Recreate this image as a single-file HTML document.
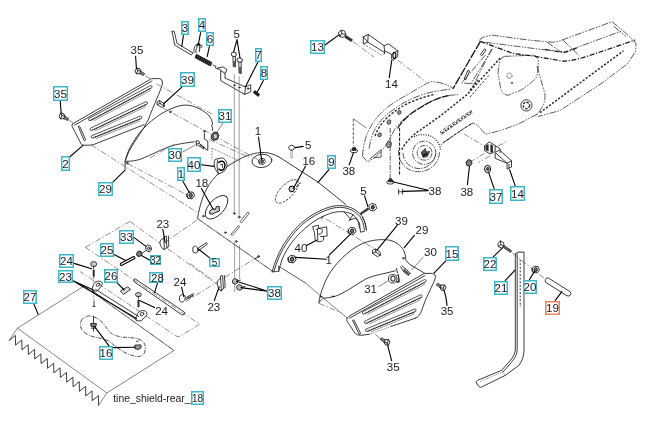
<!DOCTYPE html>
<html><head><meta charset="utf-8"><title>tine shield rear</title>
<style>
html,body{margin:0;padding:0;background:#fff;}
body{width:647px;height:438px;overflow:hidden;position:relative;font-family:"Liberation Sans",sans-serif;}
svg{position:absolute;left:0;top:0;display:block;will-change:transform;}
svg text{font-family:"Liberation Sans",sans-serif;fill:#1c1c1c;}
.k{fill:none;stroke:#1a1a1a;stroke-width:.85;stroke-linecap:round;stroke-linejoin:round;}
.kf{fill:#fff;stroke:#1a1a1a;stroke-width:.85;stroke-linejoin:round;}
.kb{fill:#222;stroke:#111;stroke-width:.6;}
.l{fill:none;stroke:#000;stroke-width:1.1;stroke-linecap:round;}
.g{fill:none;stroke:#6a6a6a;stroke-width:.7;stroke-linecap:round;stroke-linejoin:round;}
.gd{fill:none;stroke:#555;stroke-width:.9;stroke-dasharray:2.2 1.6;}
.c{fill:none;stroke:#444;stroke-width:.6;stroke-dasharray:6 2 1.5 2;}
.t{fill:none;stroke:#333;stroke-width:.6;}
.bx{fill:#fdfeff;stroke:#3fb6c6;stroke-width:1.5;}
.bo{fill:#fffdfc;stroke:#e8845c;stroke-width:1.5;}
</style></head><body>
<svg width="647" height="438" viewBox="0 0 647 438">
<rect x="0" y="0" width="647" height="438" fill="#fff"/>

<!-- 10_upper_left.svg -->
<g id="upper-left">
 <!-- side plate 2 -->
 <path class="k" d="M72.6,123.8 L150.6,79.2 L151.6,78.6 L159.4,78.6 Q162.6,79 162.6,83 C160.5,92 154,104 148.2,120 C143,130 136,139 129,151 L125.6,160"/>
 <path class="k" d="M72.6,123.8 Q71.4,124.8 72.2,126.6 L81,143.6 Q82,145.4 84,145.3 L91,145.1 Q93,145 95,144 L144,124.7"/>
 <path class="k" d="M74.6,125.2 L152,81"/>
 <!-- slots -->
 <g><path d="M88.8,118.5 L150.6,85.5 Q153.0,85.6 151.8,87.7 L90.0,120.7 Q87.6,120.6 88.8,118.5 Z" fill="#fafafa" stroke="#222" stroke-width=".75"/><path d="M90.9,120.3 L150.9,88.2" fill="none" stroke="#111" stroke-width="1.1" stroke-dasharray="1 .9"/><path d="M93.5,120.9 L150.9,90.3" fill="none" stroke="#444" stroke-width=".55"/>
  <path d="M90.4,128.2 L146.0,101.6 Q148.5,101.9 147.2,104.0 L91.6,130.6 Q89.1,130.3 90.4,128.2 Z" fill="#fafafa" stroke="#222" stroke-width=".75"/><path d="M92.5,130.1 L146.3,104.4" fill="none" stroke="#111" stroke-width="1.1" stroke-dasharray="1 .9"/><path d="M95.0,130.9 L146.1,106.5" fill="none" stroke="#444" stroke-width=".55"/>
  <path d="M91.5,135.7 L140.5,116.0 Q142.9,116.4 141.5,118.4 L92.5,138.1 Q90.1,137.7 91.5,135.7 Z" fill="#fafafa" stroke="#222" stroke-width=".75"/><path d="M93.4,137.7 L140.6,118.8" fill="none" stroke="#111" stroke-width="1.1" stroke-dasharray="1 .9"/><path d="M95.9,138.7 L140.3,120.8" fill="none" stroke="#444" stroke-width=".55"/></g>
 <path class="kf" d="M78.2,126.4 Q79.4,125.6 80,127 L85.6,139.6 Q85.2,141 84,140.4 Z"/>
 <!-- bolts 35 -->
 <g transform="translate(62,116.2) rotate(28)"><path class="kf" d="M-2.6,-2.2 L0.4,-3 L2.6,-1.4 L2.6,1.6 L-0.2,3 L-2.6,1.4 Z"/>
  <path class="k" d="M-2.6,-2.2 L-0.4,-0.6 L2.6,-1.4 M-0.4,-0.6 L-0.2,3"/>
  <path d="M2.6,-1.2 L7,-1 L7,1.2 L2.6,1.4 Z" fill="#888" stroke="#111" stroke-width=".6"/></g>
 <g transform="translate(138,71.2) rotate(28)"><path class="kf" d="M-2.6,-2.2 L0.4,-3 L2.6,-1.4 L2.6,1.6 L-0.2,3 L-2.6,1.4 Z"/>
  <path class="k" d="M-2.6,-2.2 L-0.4,-0.6 L2.6,-1.4 M-0.4,-0.6 L-0.2,3"/>
  <path d="M2.6,-1.2 L7,-1 L7,1.2 L2.6,1.4 Z" fill="#888" stroke="#111" stroke-width=".6"/></g>
 <path class="t" d="M68.5,119.8 L72.6,122.4 M145.4,75.8 L150.4,78.8"/>
 <path class="l" d="M60.3,101 L60.6,106 L61.2,113"/>
 <path class="l" d="M135.6,56.4 L136,62 L136.4,68.4"/>
 <!-- shield 29 -->
 <path class="k" d="M125,170.2 L125.2,166 L125.1,161.3 C127,152 133,141 140.1,132.2 C150,121 160,113.5 170.3,109.1 C177,106 183,104.6 188,105.2 C196,106 204,111 208.5,115.1 C211,118 212.4,121 212.5,124 L211.5,126.4 L212.6,127 L212.6,130.4"/>
 <path class="k" d="M125.1,161.3 C131,161.5 136,160.6 140.1,159.3 C146,157 151,154.6 156.2,152.3 C161,150 166,147.8 170.3,146.3 C176,144.6 181,143.6 184.3,143.2 L194.4,141.8"/>
 <path class="k" d="M204.4,133.2 L204.4,139 L207.8,141 L207.8,150.3 L204.6,148.4"/>
 <circle class="k" cx="170.3" cy="111.9" r=".8"/><circle class="k" cx="204.4" cy="131.2" r=".8"/><circle class="k" cx="127.2" cy="163.2" r=".9"/>
 <!-- bolt 39 -->
 <path class="kf" d="M157,102 L159.6,100.6 L164.2,103.6 L164.4,106.2 L161.6,107.4 L157.2,104.6 Z"/>
 <path class="k" d="M159.6,100.6 L160,103.4 L164.4,106.2 M160,103.4 L157.2,104.6"/>
 <path class="l" d="M181.8,87.2 L163.4,104"/>
 <!-- leaders -->
 <path class="l" d="M69.6,157 L83,145.4"/>
 <path class="l" d="M112.6,182.4 L124.6,170.6"/>
 <!-- center lines -->
 <path class="c" d="M156.4,84 L212,114"/>
 <path class="c" d="M91.4,145.1 L198.2,213"/>
 <path class="c" d="M127.5,163.5 L188,195.4"/>
 <path class="c" d="M163,108 L258,159.6"/>
</g>

<!-- 20_top_mid.svg -->
<g id="top-mid">
 <!-- rod 3 -->
 <path class="k" d="M172,31.4 Q173.2,30.2 174.3,31.4 L177,43.4 L192.4,52.6 M172,31.4 L174.8,45.2 L191.2,55 Q192.6,54.6 192.4,52.6"/>
 <path class="l" d="M183.4,35.6 L181.8,46.4"/>
 <!-- clip 4 -->
 <path class="k" d="M194,52.4 C193.6,48 195,44.6 197.4,44.2 M197.4,44.2 C198.6,44 199.4,45 199.2,46 M199.4,51.6 L199.8,46 C200.6,44.4 202.4,44.8 202,46.4 C201.8,47.6 200.6,48 199.8,47.8 M196,52.8 C195.8,49.4 196.6,46.6 198,45.6"/>
 <path class="l" d="M200.6,32.6 L198.6,43 M198.6,43 L196.8,45.8 M198.6,43 L200,45.4"/>
 <!-- spring 6 -->
 <path d="M196.4,54.4 L212,62.6 L210.6,66 L195,57.6 Z" fill="#444" stroke="#111" stroke-width=".7"/>
 <path d="M197.2,54.2 L196,58.4 M199,55.2 L197.8,59.4 M200.8,56.2 L199.6,60.4 M202.6,57.2 L201.4,61.4 M204.4,58.2 L203.2,62.4 M206.2,59.2 L205,63.4 M208,60.2 L206.8,64.4 M209.8,61.2 L208.6,65.4" stroke="#000" stroke-width=".8" fill="none"/>
 <path class="l" d="M209.4,46.4 L207.2,56.6"/>
 <path class="k" d="M213.4,65.2 L216,66.4 L215.4,67.8 L218,69.2"/>
 <!-- bracket 7 -->
 <path class="k" d="M218,68 L223,66.8 L227,69.6 L225,73.4 L225,78.1 L245.5,87 L250.7,84.6 L250.7,91.8 L244.7,94.4 L220.7,80.7 L220.7,70.4 L218,68 M220.7,70.4 L225,73.4 M245.5,87 L244.7,94.4"/>
 <circle class="k" cx="248.1" cy="88.6" r=".8"/><circle class="k" cx="234.4" cy="85.3" r=".7"/><circle class="k" cx="239.3" cy="87.5" r=".7"/>
 <path class="l" d="M257.8,62.2 L245.6,86.6"/>
 <!-- spring 8 -->
 <path d="M253.4,92.6 L254.8,90.6 L259.6,94.2 L258.2,96.4 Z" fill="#222" stroke="#000" stroke-width=".8"/>
 <path class="l" d="M263.4,80.6 L257.6,91.6"/>
 <!-- bolts 5 -->
 <path class="kf" d="M231.6,52.8 L233.6,52 L236.2,53 L236.2,55.6 L234.2,56.8 L231.6,55.6 Z"/>
 <path class="k" d="M233,56.4 L233.2,66.4 L235.4,67 L235.4,56.4"/>
 <path d="M233.2,61 L235.4,61 L235.4,67 L233.2,66.4 Z" fill="#555" stroke="none"/>
 <path class="kf" d="M237.2,58.6 L239.4,57.8 L242.2,59 L242.2,61.4 L240,62.4 L237.2,61.4 Z"/>
 <path class="k" d="M238.8,62 L239,73 L241.2,73.6 L241.2,62"/>
 <path d="M239,67 L241.2,67 L241.2,73.6 L239,73 Z" fill="#555" stroke="none"/>
 <path class="l" d="M237,39.6 L233.6,52 M237,39.6 L240,57.8"/>
 <!-- long vertical guide lines -->
 <path fill="none" stroke="#777" stroke-width=".7" d="M234.3,74 L234.3,84.6 M239.2,76 L239.2,86.8 M234.3,86 L234.3,212.6 M239.2,88.4 L239.2,216.4 M234.6,241.6 L234.6,292 M239.6,245 L239.6,279"/>
 <circle class="k" cx="234.3" cy="213.4" r=".8"/><circle class="k" cx="239.2" cy="217.2" r=".8"/>
</g>

<!-- 30_shield9.svg -->
<g id="shield9">
 <!-- left (front) arc -->
 <path class="k" d="M197.6,218.6 C198.4,212 200.4,204 203.4,195.7 C206.6,188 211,181 215.9,176.2 C221,171 227,166 234,162.3 C239.6,159 245,156 250.7,154.5 C255.4,153 260,152.3 264.7,152.5 C269.6,152.8 274,154.4 278.6,156.7"/>
 <!-- top edge -->
 <path class="k" d="M278.6,156.7 L317.6,181.8 L346,204.6"/>
 <!-- lower edge -->
 <path class="c" d="M197.7,218.7 L272.2,271"/>
 <path class="t" d="M197.7,218.7 L272.2,271"/>
 <!-- end cap arcs -->
 <path class="k" d="M272.1,271.8 C273.4,267 275,262 277.1,257.3 C279.8,251 283,245 287.1,239.2 C291.4,233 296,228 301.2,223.1 C306,219 311.6,215 317.3,212.1 C322.6,209.4 328,207.2 333.4,206.1 C337.4,205.4 341.4,205.4 345.4,206.1 C349,206.8 352.6,208 355.5,210.1 C358.6,212.2 361,214.4 362.5,217.1 C364,219.8 365,222.4 365.5,225.1 L366.5,230.2"/>
 <path class="k" d="M273.8,272 C275,267.4 276.6,262.6 278.7,257.9 C281.4,251.6 284.6,245.8 288.6,240.2 C292.8,234.2 297.4,229.2 302.4,224.5 C307.2,220.4 312.6,216.6 318.1,213.8 C323.4,211.1 328.6,209 333.8,207.9 C337.6,207.2 341.4,207.2 345.2,207.9 C348.6,208.6 351.8,209.8 354.6,211.7 C357.4,213.6 359.6,215.8 361,218.2 C362.4,220.8 363.2,223 363.7,225.6 L364.4,230"/>
 <path class="k" d="M278.7,271.4 C279.6,267.4 280.8,263.4 282.1,259.3 C284.6,253.6 287.6,248 291.2,243.2 C295.4,237.6 300,232.6 305.2,228.2 C310,224 315.6,220 321.3,217.1 C326,214.8 331,213 335.4,212.1 C338.8,211.5 342,211.5 345.4,212.1 C348.4,212.7 351.2,213.6 353.5,215.1 C355.8,217 357.4,219.4 358.5,222.1 L359.5,228.2"/>
 <path class="k" d="M272.1,271.8 L278.7,271.4 L278.7,266.3 M278.7,266.3 L305.2,282.8" style="stroke-width:.7"/>
 <path class="k" d="M255,259.3 L259,255.3"/>
 <path fill="none" stroke="#111" stroke-width="1.3" stroke-dasharray="1 1.2" d="M362.5,217.1 C364,219.8 365,222.4 365.5,225.1 L366.5,230.2"/>
 <path class="k" d="M344,211.8 L351,219.4 M353,214.8 L349.4,220.1"/>
 <path class="t" d="M305.2,282.8 L347,318"/>
 <!-- right tab -->
 <path class="k" d="M349.4,220.1 L355.4,218.1 L359.5,223.1 L360.5,232.2 L364.5,231.2"/>
 <path class="k" d="M321.3,219.1 L323.3,216.1"/>
 <path class="c" d="M326.3,219.1 L373.5,248.2"/>
 <!-- ellipses -->
 <ellipse class="k" cx="261.9" cy="160.9" rx="10" ry="6.6" transform="rotate(-6 261.9 160.9)"/>
 <ellipse class="k" cx="216.6" cy="207.2" rx="14.6" ry="7.6" transform="rotate(-47 216.6 207.2)"/>
 <ellipse cx="286.8" cy="191.4" rx="15" ry="6.6" transform="rotate(-46 286.8 191.4)" fill="none" stroke="#222" stroke-width=".8" stroke-dasharray="2.5 1.2"/>
 <!-- fasteners within ellipses -->
 <g transform="translate(262,161.4) scale(.95)"><path class="kf" d="M-3.4,-1.2 L-1.2,-3.2 L2.4,-2.8 L3.6,0.4 L1.4,3.2 L-2.4,2.6 Z"/>
  <ellipse cx="0.1" cy="0" rx="1.5" ry="1.8" fill="#777" stroke="#000" stroke-width=".8"/>
  <path class="k" d="M-3.4,-1.2 L-3.6,0.8 L-2.4,2.6"/></g>
 <path d="M209.6,211.6 L212.4,208.6 L215.4,209.4 L216.4,206.6 L219.2,206.4 L219.4,211 L215.6,212.4 L212.4,214.2 L209.8,213.8 Z" fill="#ccc" stroke="#000" stroke-width=".9"/>
 <path d="M289.8,186.6 L293.2,186 L294.8,188.6 L293.4,191.4 L290.2,191.8 L289,189.2 Z" fill="#ccc" stroke="#000" stroke-width="1"/>
 <path class="k" d="M296.4,186.4 L298.4,185.8 M299.4,183.6 L300.4,183.2"/>
 <!-- leaders -->
 <path class="l" d="M258.5,137 L261.6,159.6"/>
 <path class="l" d="M201.4,188.6 L213.2,209.2"/>
 <path class="l" d="M305.6,166 L293.4,188.6"/>
 <path class="l" d="M328.9,169.6 L317.8,182.6"/>
 <!-- bolt 5 near top -->
 <path class="kf" d="M288.6,147.4 Q289,145.4 291.6,145.2 Q294.4,145.4 294.6,147.4 Q294.4,149.4 292.4,150 L290.6,150 Q288.8,149.4 288.6,147.4 Z"/>
 <path d="M290.8,150.4 L292.4,150.4 L292.4,158 L290.8,158 Z" fill="none" stroke="#222" stroke-width=".7" stroke-dasharray="1 1"/>
 <path class="l" d="M303.2,146.4 L295,147.6"/>
 <!-- nut 1 (boxed) -->
 <g transform="translate(190.6,195.4) scale(1.1)"><path class="kf" d="M-3.4,-1.2 L-1.2,-3.2 L2.4,-2.8 L3.6,0.4 L1.4,3.2 L-2.4,2.6 Z"/>
  <ellipse cx="0.1" cy="0" rx="1.5" ry="1.8" fill="#777" stroke="#000" stroke-width=".8"/>
  <path class="k" d="M-3.4,-1.2 L-3.6,0.8 L-2.4,2.6"/></g>
 <path class="l" d="M183,181.4 L189.4,192.6"/>
 
 <!-- pin slots -->
 <path d="M230.8,234.4 L238.4,225.6 L239.8,226.6 L232.2,235.6 Z M240,221.6 L247.8,212 L249.4,213.2 L241.6,223 Z" fill="none" stroke="#222" stroke-width=".7"/>
 <circle class="k" cx="203.4" cy="216.2" r=".8"/><circle class="k" cx="225.4" cy="232.6" r=".8"/><circle class="k" cx="236.3" cy="241.4" r=".8"/><circle class="k" cx="258.6" cy="256.6" r=".8"/>
 <!-- bolt 5 (boxed) -->
 <path class="kf" d="M192.8,247.4 L195.6,246 L197.8,248 L197.8,251.6 L195.6,253 L193,252 Z"/>
 <path class="k" d="M197.8,248.4 L206.4,242.6 L207.4,244 L197.8,251.2"/>
 <path class="l" d="M209.4,257.6 L198,248.8"/>
 <path class="c" d="M190,263.3 L212.3,279.9"/>
</g>

<!-- 40_fasteners_mid.svg -->
<g id="fasteners-mid">
 <!-- nut 31 left -->
 <path d="M211.4,135.4 L213.8,132.2 L217.4,132.4 L218.9,135.6 L217.2,139.6 L213.4,140.4 L211.2,138.2 Z" fill="#666" stroke="#000" stroke-width=".8"/>
 <path d="M214,134.6 L216.4,134.4 L216.8,137.4 L214.6,138.4 Z" fill="#ddd" stroke="none"/>
 <path class="t" d="M223,123.2 L215.4,134.4"/>
 <!-- bolt 30 left -->
 <path class="k" d="M196,141.4 C197.4,140 199.4,140.6 199.4,142.2 C199.4,143.6 197.6,144.4 196.6,143.6 M196.2,141 L196.6,146 M199.2,143.4 L204.6,147.6 M198,145 L203.6,148.8 M200.6,144.4 L200,146.2 M202.2,145.6 L201.6,147.4 M203.8,146.8 L203.2,148.6"/>
 <path class="t" d="M182.4,152.2 L195.4,144.8"/>
 <!-- clip 40 left -->
 <path class="kf" d="M215.2,159.4 L222.2,157.8 C224.6,158.6 226.6,161 227,164 C227.2,167.6 225.6,170.4 223.6,171.6 L218.6,174 C216.4,171.6 214.6,168 214.2,165 C214,162.8 214.4,160.8 215.2,159.4 Z"/>
 <path d="M218.4,163 C219.4,161 222.4,160.6 224,162.2 C225.4,164 225.2,167.4 223.6,169.4 C222,170.8 219.6,170.4 218.6,168.6" fill="none" stroke="#000" stroke-width="1.4"/>
 <path class="k" d="M217.6,160 C216.6,164 217,169.6 218.6,174 M220.6,164.6 L222.4,164.2 L222.4,167.4"/>
 <path class="l" d="M201.4,164.8 L214.2,166.4"/>
 <path class="t" stroke-dasharray="1.5 1.2" d="M212,148.2 L212,159.5 M212,148.2 L240.3,161.4"/>
 <!-- dashed center lines through left assembly -->
 <path class="c" d="M209,139.4 L250.5,157.8"/>
 <path class="c" d="M150,157.8 L175,144"/>
 <!-- right-side: clip 40 -->
 <path class="kf" d="M312.6,226.6 L318.4,225.2 L318.8,228.6 L326.6,226.8 L327.2,235.8 L323.6,236.6 L323.6,240 C321,242.6 316.4,242.2 315.2,239.6 L314.4,232.6 Z"/>
 <path class="k" d="M316.4,229.4 C318.4,227.8 321.8,228 322.4,230.4 C322.8,232.6 321,234.4 318.6,234.2 M317.4,229.2 L317.8,240.8 M320.4,236.4 L323.6,236.6"/>
 <path class="l" d="M306.6,245.6 L316.4,240.2"/>
 <!-- nuts 1 right -->
 <g transform="translate(292,259.2) scale(1.15)"><path class="kf" d="M-3.4,-1.2 L-1.2,-3.2 L2.4,-2.8 L3.6,0.4 L1.4,3.2 L-2.4,2.6 Z"/>
  <ellipse cx="0.1" cy="0" rx="1.5" ry="1.8" fill="#777" stroke="#000" stroke-width=".8"/>
  <path class="k" d="M-3.4,-1.2 L-3.6,0.8 L-2.4,2.6"/></g>
 <g transform="translate(352,231) scale(1.1)"><path class="kf" d="M-3.4,-1.2 L-1.2,-3.2 L2.4,-2.8 L3.6,0.4 L1.4,3.2 L-2.4,2.6 Z"/>
  <ellipse cx="0.1" cy="0" rx="1.5" ry="1.8" fill="#777" stroke="#000" stroke-width=".8"/>
  <path class="k" d="M-3.4,-1.2 L-3.6,0.8 L-2.4,2.6"/></g>
 <path class="l" d="M326.4,259.2 L295.4,257.4 M329.2,255.2 L350.4,234.2"/>
 <!-- bolt 39 right -->
 <path class="kf" d="M372.4,250.4 L375.6,249 L380.2,252.2 L380.4,255.2 L377.4,256.6 L372.6,253.4 Z"/>
 <path class="k" d="M375.6,249 L375.8,252 L380.4,255.2 M375.8,252 L372.6,253.4"/>
 <path class="l" d="M397.2,225.4 L377,250.2"/>
 <!-- bolt 5 right -->
 <path class="kf" d="M368.8,205.4 L371.6,203.4 L375.6,204.4 L376.6,208.4 L374,211 L370,210.2 Z"/>
 <ellipse cx="372.8" cy="207.2" rx="1.6" ry="2" fill="#444" stroke="#000" stroke-width=".6"/>
 <path d="M368.8,209.4 L361,214.6 L360.2,213.2 L368,207.8 Z" fill="#444" stroke="#111" stroke-width=".6"/>
 <path class="l" d="M364.6,195.8 L367.8,206.4"/>
 <!-- nut 31 right -->
 <path class="kf" d="M388.4,279 C388.2,276 390.6,274 393.4,274.4 C396.2,274.8 397.4,277.4 396.8,280 C396.2,282.6 393.6,283.6 391.2,282.8 C389.4,282.2 388.6,280.8 388.4,279 Z"/>
 <ellipse cx="393" cy="278.6" rx="2.2" ry="2.6" fill="#fff" stroke="#000" stroke-width="1"/>
 <path class="k" d="M398.4,275 L398.8,282 M397,275.4 L398.4,275 M397.4,282.4 L398.8,282"/>
 <path class="t" d="M378.4,286.6 L389,280.4"/>
 <!-- bolt 30 right -->
 <path class="k" d="M400.6,266.8 L403.4,271.4 M402,266 L410.4,273.4 L408.4,275.6 L403.4,271.4 M404.6,269.6 L405.8,268.6 M406.6,271.4 L407.8,270.2"/>
 <path d="M403.6,269 L409.8,273.4 L408.4,275.2 L403.4,271.4 Z" fill="#555" stroke="none"/>
 <path class="t" d="M423.4,256.8 L411.6,270"/>
</g>

<!-- 50_right_plate.svg -->
<g id="right-plate">
 <!-- shield 29 right -->
 <path class="k" d="M319,303 L319,302.4 C319.6,297 321,292 323,287.3 C325,281.6 327.6,276 331.1,271.2 C334.6,266 338.6,261.4 343.1,257.1 C348,252.4 353.4,248.2 359.2,245.1 C364.4,242.4 369.8,240.8 375.3,240.1 C380,239.5 384.8,239.5 389.3,240.1 C393.2,241 396.8,242.8 399.4,245.1 C401.8,247.2 403.4,249.6 404.4,252.1 C405.4,254.8 405.8,257.4 405.8,260.2 L409.4,264.2 L424.5,273.2"/>
 <path class="k" d="M319,302.4 L323,298.3 C327,298 331,297.4 335.1,296.3 C340,294.6 344.6,292 349.2,289.3 C354.6,286 359.8,282.4 365.2,279.3 C370.4,276.8 375.8,275.2 381.3,274.2 L395.4,270.8"/>
 <path class="k" d="M396.4,268.4 L397.6,273 M398.4,275.2 L399.4,281.3 L396.4,281.8"/>
 <circle class="k" cx="403.4" cy="258.2" r=".8"/><circle class="k" cx="321" cy="296.6" r=".8"/><circle class="k" cx="333" cy="296.4" r=".7"/>
 <path class="l" d="M414.4,235.4 L404.2,247.6"/>
 <path class="c" d="M319,303.4 L341.1,312.8"/>
 <!-- plate 15 -->
 <path class="k" d="M347.1,318.2 L349.1,316.2 L423.4,274 L424.6,273.4 L432.6,273.4 Q435.6,273.8 435.5,277.1 C434.4,281 433,284 431.4,287.1 C429.4,291.6 427.4,296 425.4,300.2 C424,304 422.8,307.6 421.4,311.2 C420,314.6 418.6,317 415.4,318.2"/>
 <path class="k" d="M347.1,318.2 Q346.2,319.6 347.1,321.3 L355.1,333.3 Q356.8,335.4 361.1,335.3 L369.2,334.3"/>
 <path class="t" stroke-dasharray="1.2 1" d="M369.2,334.3 L391.3,326.3"/>
 <path class="k" d="M391.3,326.3 L415.4,318.2"/>
 <path class="k" d="M349.6,318.2 L424.6,275.8"/>
 <g><path d="M362.6,311.8 L424.6,279.4 Q427.0,279.6 425.8,281.8 L363.8,314.2 Q361.4,314.0 362.6,311.8 Z" fill="#fafafa" stroke="#222" stroke-width=".75"/><path d="M364.7,313.7 L424.9,282.2" fill="none" stroke="#111" stroke-width="1.1" stroke-dasharray="1 .9"/><path d="M367.3,314.4 L424.9,284.3" fill="none" stroke="#444" stroke-width=".55"/>
  <path d="M364.6,321.2 L420.6,294.8 Q423.1,295.1 421.8,297.2 L365.8,323.6 Q363.3,323.3 364.6,321.2 Z" fill="#fafafa" stroke="#222" stroke-width=".75"/><path d="M366.7,323.1 L420.8,297.6" fill="none" stroke="#111" stroke-width="1.1" stroke-dasharray="1 .9"/><path d="M369.2,323.9 L420.7,299.7" fill="none" stroke="#444" stroke-width=".55"/>
  <path d="M365.7,329.2 L414.7,309.0 Q417.1,309.4 415.7,311.4 L366.7,331.6 Q364.3,331.2 365.7,329.2 Z" fill="#fafafa" stroke="#222" stroke-width=".75"/><path d="M367.6,331.2 L414.8,311.8" fill="none" stroke="#111" stroke-width="1.1" stroke-dasharray="1 .9"/><path d="M370.2,332.1 L414.5,313.8" fill="none" stroke="#444" stroke-width=".55"/></g>
 <path class="kf" d="M352.6,320.2 Q353.8,319.4 354.4,320.8 L360.6,333.4 Q360.2,334.8 359,334.2 Z"/>
 <!-- bolts 35 -->
 <g transform="translate(443,287.6) rotate(208)"><path class="kf" d="M-2.6,-2.2 L0.4,-3 L2.6,-1.4 L2.6,1.6 L-0.2,3 L-2.6,1.4 Z"/>
  <path class="k" d="M-2.6,-2.2 L-0.4,-0.6 L2.6,-1.4 M-0.4,-0.6 L-0.2,3"/>
  <path d="M2.6,-1.2 L7,-1 L7,1.2 L2.6,1.4 Z" fill="#888" stroke="#111" stroke-width=".6"/></g>
 <g transform="translate(387,342.2) rotate(208)"><path class="kf" d="M-2.6,-2.2 L0.4,-3 L2.6,-1.4 L2.6,1.6 L-0.2,3 L-2.6,1.4 Z"/>
  <path class="k" d="M-2.6,-2.2 L-0.4,-0.6 L2.6,-1.4 M-0.4,-0.6 L-0.2,3"/>
  <path d="M2.6,-1.2 L7,-1 L7,1.2 L2.6,1.4 Z" fill="#888" stroke="#111" stroke-width=".6"/></g>
 <path class="t" d="M375.2,334.3 L381.2,339.3"/>
 <path class="l" d="M447,305.4 C446.6,300 445.8,295.6 444.4,291.4"/>
 <path class="l" d="M391.6,360.6 L387.8,345.8"/>
 <path class="l" d="M445.8,260.8 L434,273.2"/>
</g>

<!-- 60_lower_left.svg -->
<g id="lower-left">
 <!-- sheet 27 -->
 <path class="t" stroke-width=".75" d="M17.5,328.2 L84,286 M17.5,328.2 L106.8,393 L174,350.5 M17.5,328.2 L9.2,340.5 M106.8,393 L98.6,405.3"/>
 <path class="t" d="M84,286 L174,350.5"/>
 <path class="c" d="M84,286 L174,350.5"/>
 <!-- zigzag teeth -->
 <path class="k" d="M9.2,340.5 L15.4,335.4 L15.6,345.1 L21.8,340.0 L22.0,349.8 L28.2,344.7 L28.4,354.4 L34.6,349.3 L34.7,359.0 L40.9,353.9 L41.1,363.6 L47.3,358.5 L47.5,368.3 L53.7,363.2 L53.9,372.9 L60.1,367.8 L60.3,377.5 L66.5,372.4 L66.7,382.2 L72.9,377.1 L73.1,386.8 L79.3,381.7 L79.4,391.4 L85.6,386.3 L85.8,396.0 L92.0,390.9 L92.2,400.7 L98.4,395.6 L98.6,405.3"/>
 <!-- peanut outline -->
 <path fill="none" stroke="#222" stroke-width=".8" stroke-dasharray="4 1.2 1 1.2" d="M81,321.2 C83,317 87,315.4 91,316 C96,317 100,320 103.1,323.2 C106,327 108.4,331 111.2,333.3 C115,336 120,337 125.2,337.3 C130,337.6 135,337.6 139.3,339.3 C143,341 145.4,343.6 145.3,347.3 C145.2,351 144.6,353.4 143.3,354.4 C141,356.6 138,357 135.3,356.4 C130,355 125,352.8 121.2,350.4 C117,347.6 113,344.4 109.2,341.3 C105,339 100,338 95.1,337.3 C90,336 86,334 83,331.3 C80.6,328.6 79.8,324.6 81,321.2 Z"/>
 <!-- fasteners 16 -->
 <path d="M90.6,323.6 L96.4,323.6 L95.8,326.6 L91.2,326.6 Z" fill="#888" stroke="#000" stroke-width=".8"/>
 <path class="k" d="M93.5,316.2 L93.5,323 M93.5,327 L93.5,331 M91.4,328.2 L95.6,328.2"/>
 <path d="M134.8,345.2 L140.6,344.8 L141.2,347.8 L138,349.6 L134.8,348.4 Z" fill="#999" stroke="#000" stroke-width=".8"/>
 <path class="k" d="M136.4,341.4 L138.4,341"/>
 <path class="l" d="M109.6,346.6 L94.6,326.6 M112,347.6 L135,347.2"/>
 <!-- bar 23 -->
 <path class="kf" d="M93.6,284.4 C94.6,281.8 97.6,280.6 100.6,281.4 C102.6,282 102.6,284 101.4,286 L97.4,290.8 L92.8,291.4 L92,289.2 Z"/>
 <ellipse class="k" cx="98" cy="284.8" rx="2" ry="1.4" transform="rotate(-30 98 284.8)"/>
 <path class="kf" d="M137.6,313.8 C138.6,311.2 141.6,310 144.6,310.8 C147,311.6 147.6,313.8 146.4,315.8 L141,320.8 L136.4,320.8 L135.6,318.4 Z"/>
 <ellipse class="k" cx="142" cy="314.2" rx="2" ry="1.4" transform="rotate(-30 142 314.2)"/>
 <path class="k" d="M92.4,291.2 L136.2,319.6 M95.6,289.4 L138.8,316.6" stroke-width="1"/>
 <path class="l" d="M73,280.8 L94,290.2 M73,280.8 L136.4,318.4"/>
 <!-- bolts 24 -->
 <path class="kf" style="fill:#c8c8c8" d="M90.6,263.8 Q91,261.6 93.6,261.4 Q96.4,261.6 96.8,263.8 L95.6,266.4 L91.8,266.4 Z"/>
 <path class="k" d="M93.6,266.6 L93.6,269" />
 <path d="M93,270 L94.4,270 L94.4,276.6 L93,276.6 Z" fill="#333" stroke="#222" stroke-width=".5"/>
 <path class="t" stroke-dasharray="2 1.4" d="M93.6,277 L93.6,282 M93.8,292 L93.8,300"/>
 <path class="k" d="M94,301 L94,306.4 M93,306.4 L95,306.4"/>
 <path class="l" d="M74,263.4 L91.6,268.8"/>
 <path class="kf" style="fill:#c8c8c8" d="M135.4,294.4 Q135.8,292.6 138.4,292.4 Q141,292.6 141.4,294.4 L140.4,296.4 L136.4,296.4 Z"/>
 <path class="k" d="M138.4,296.6 L138.4,299"/>
 <path d="M137.8,300 L139.2,300 L139.2,307 L137.8,307 Z" fill="#333" stroke="#222" stroke-width=".5"/>
 <path class="l" d="M154.6,307.6 L139.6,300.6"/>
 <path class="kf" d="M179.4,297.4 C179.6,295 182,294 184,295 C185.6,296 185.6,298.6 184.4,300.6 C183,302.6 180.6,302.6 179.8,301 Z"/>
 <path class="k" d="M185.4,298 L193.4,293.6 M186,299.6 L193.8,295 M188,297 L188.6,298.4 M190,296 L190.6,297.4 M192,295 L192.6,296.4"/>
 <path class="l" d="M181.6,287.2 L183.8,296.6"/>
 <!-- part 26 -->
 <path d="M120.4,291 L127.6,286.8 L130.6,289.4 L123.4,294.4 Z" fill="#ddd" stroke="#1a1a1a" stroke-width=".85"/>
 <path class="l" d="M116.6,282.4 L124.2,290"/>
 <!-- pin 25 -->
 <path class="kf" d="M120.4,263.6 L133.6,256.6 Q135,256.8 134.8,258.4 L121.6,265.6 Q120,265.4 120.4,263.6 Z" style="stroke:#000;stroke-width:1.1"/>
 <path class="l" d="M114,254.4 L125.6,260.4"/>
 <!-- washer 33 / bolt 32 -->
 <ellipse class="kf" cx="148.6" cy="248.4" rx="2.8" ry="3.4" transform="rotate(-20 148.6 248.4)"/>
 <ellipse class="k" cx="148.8" cy="248.6" rx="1.1" ry="1.5" transform="rotate(-20 148.8 248.6)"/>
 <path class="l" d="M133.8,237.4 L146,246.4"/>
 <path d="M136.4,253.6 L138.4,251 L141.2,251.6 L142,254.4 L140,256.6 L137.2,256 Z" fill="#777" stroke="#000" stroke-width=".8"/>
 <path class="k" d="M142.4,253 L145.6,250.6"/>
 <path class="l" d="M150.4,260.4 L141.4,255.6"/>
 <!-- strip 28 -->
 <path class="kf" stroke-width=".9" d="M133.8,279.8 Q134,278.6 135.4,279 L184.4,312 Q185.4,313.4 184.2,314.4 Q183,315.2 181.6,314.6 L134.2,281.8 Q133.4,281 133.8,279.8 Z"/>
 <path class="l" d="M157.4,283.4 L154.6,292.6"/>
 <!-- phantom outline -->
 <path class="c" d="M85.4,247.3 L129.9,221.5"/>
 <path class="c" d="M85.4,247.3 L199.6,324.2"/>
 <path class="c" d="M199.6,324.2 L181,335.6 Q178.4,337.6 176,336 L80,271.5"/>
 <path class="c" d="M129.9,221.5 L218,285"/>
 <path class="c" d="M163.6,243.2 L197.7,219.6"/>
 <path class="c" d="M186,301.4 L259,256"/>
 <!-- clips 23 -->
 <path class="kf" d="M160,243.4 C159.6,240.6 161.4,238.4 163.8,238.6 L164,236.6 L166.4,236.2 L166.8,247.6 L164.6,249.6 C162.4,249.4 160.4,246.4 160,243.4 Z"/>
 <path class="k" d="M163.8,238.6 L164.4,249.4 M168.4,236 L168.8,246.6 L166.8,247.6"/>
 <path class="l" d="M162.8,229.2 L165.2,242.6"/>
 <path class="kf" d="M217.4,284.4 C217,281.6 218.4,279 220.6,278.4 L220.4,276 L222.6,275.6 L223.4,288.4 L221.4,291 C219.4,290.4 217.8,287.4 217.4,284.4 Z"/>
 <path class="k" d="M220.6,278.4 L221.4,290.8 M224.4,275.6 L225.2,287.4 L223.4,288.4"/>
 <path class="l" d="M214.4,300.4 L219.2,286.8"/>
 <!-- bolts 38 -->
 <path d="M232.4,280.4 L234.6,278.6 L237.4,279.6 L237.6,282.6 L235.4,284.2 L232.8,283.2 Z" fill="#bbb" stroke="#000" stroke-width=".8"/>
 <path class="k" d="M237.6,280.6 L240.4,280.2"/>
 <path d="M236.4,286.4 L238.6,284.6 L241.6,285.4 L242.4,288.6 L240.2,290.4 L237.2,289.6 Z" fill="#bbb" stroke="#000" stroke-width=".7"/>
 <path class="k" d="M242.4,287 L245,286.4"/>
 <path class="l" d="M267.4,291.2 L236.4,281.2 M267.4,291.2 L241,287.6"/>
 <!-- leader 27 -->
 <path class="l" d="M33.8,303.8 L38.2,314.4"/>
</g>

<!-- 70_bar21.svg -->
<g id="bar21">
 <path class="k" d="M515.3,253.8 L515.3,349 C515.2,353 513.6,356 511.5,359 L501.5,370.4 L477.4,380.4 Q475.8,381.4 476.4,383 L479,386.6 Q480,387.8 481.6,387 L505.2,375.4 L519,365.3 C522,361 524,356 524,350.3 L524,252.1 L518.2,252.1 L515.3,253.8"/>
 <path class="k" d="M517.2,254 L517.2,349.4 C517,353.4 515.6,356.6 513.4,359.8 L503.4,371.6"/>
 <path class="t" stroke-dasharray="1.2 1.2" d="M503.4,371.6 L479.4,382 M505.2,375.4 L501.5,370.4"/>
 <path fill="none" stroke="#333" stroke-width="1" stroke-dasharray="2 1.6" d="M520.2,259.6 L520.2,307"/>
 <path class="t" stroke-dasharray="1 1" d="M517.4,252.4 L523.6,252.4"/>
 <!-- bolt 22 -->
 <path class="kf" d="M497.8,243.4 L500.4,241 L503.6,242.6 L504,246.2 L501.4,248 L498.4,246.6 Z"/>
 <path class="k" d="M500.4,241 L500.8,244.6 L504,246.2 M500.8,244.6 L498.4,246.6"/>
 <path d="M504,245.4 L511.6,250.6 L510.6,252.6 L503.4,247.6 Z" fill="#666" stroke="#111" stroke-width=".6"/>
 <path class="l" d="M493.2,256.8 L502.6,247.8"/>
 <path class="l" d="M505.2,280.6 L515,270.2"/>
 <!-- nut 20 -->
 <g transform="translate(535.6,269.6) scale(1.05)"><path class="kf" d="M-3.4,-1.2 L-1.2,-3.2 L2.4,-2.8 L3.6,0.4 L1.4,3.2 L-2.4,2.6 Z"/>
  <ellipse cx="0.1" cy="0" rx="1.5" ry="1.8" fill="#777" stroke="#000" stroke-width=".8"/>
  <path class="k" d="M-3.4,-1.2 L-3.6,0.8 L-2.4,2.6"/></g>
 <path class="l" d="M529.4,279.6 L534.6,271.2"/>
 <!-- pin 19 -->
 <path class="kf" d="M545.4,279.6 Q545.8,277.4 548.4,278 L570,291.6 Q571.6,293.2 570.4,295 Q569,296.6 567,295.8 L545.8,282.4 Q544.8,281 545.4,279.6 Z"/>
 <path class="l" d="M555.2,300.6 L561.8,291.6"/>
 <path class="c" d="M512.2,253 L545.4,279.2"/>
</g>

<!-- 80_transmission.svg -->
<g id="transmission" fill="none" stroke="#262626" stroke-width=".75" stroke-linecap="butt" stroke-linejoin="round">
 <g stroke-dasharray="7 1.3 1.6 1.3 1.6 1.3">
  <!-- upper housing top outline -->
  <path d="M479.4,40.6 Q480.6,37.8 483.7,37.1 L492.3,35.1 L512.8,38 L530,40.2 L552.2,42.2 Q558,42 562.6,39.8 L612.1,21.7"/>
  <path d="M612.1,21.7 L623.3,31 L633.7,40.6 Q636.4,43 636.1,46 L635.3,51.9 L627.4,63.9 L601,83.7 L559.8,110.6 L537.9,116.5"/>
  <path d="M485.4,42.3 L538.5,49.1 L562.5,51.7 Q566,51.6 570,50 L621.7,31"/>
  <path d="M547.1,42.3 L560.8,51.7 M562.6,39.8 L579.4,55.8 M613.7,26.2 L626,36.6"/>
  <!-- inner left panel -->
  <path d="M491.7,48.8 L474.1,84 L461.6,82.8 M485.4,55.1 L462.8,81.5"/>
  <path d="M492.3,49.1 L470,85.1"/>
  <!-- inner rounded plate -->
  <path d="M504.3,56.4 L533.2,55.1 Q537.4,56 538.2,60 L538.2,67.7 L537,76.5 C533,82 526,87 520.6,90.3 L508,95.3 Q502.4,95 500.5,87.8 L498,72.7 L499.4,62 Q500.6,57.6 504.3,56.4 Z"/>
  <!-- right edge of lower case -->
  <path d="M536.9,65.8 L540.9,79.8 L544.9,93.7 Q545.6,101 541.9,107.6 L535.9,116.5"/>
  <!-- bottom case outline -->
  <path d="M537,114.2 L518.1,124.2 L500.5,130.5 L485.4,134.3 L477.9,125.5 L472.9,123 L462.8,129.2 L439.9,145.5"/>
  <path d="M362.5,156.1 C363,148 364.6,140 367.2,133.7 C370,127 374,120.6 379.3,115 C385,109 391,104 398.1,100 C405,96 412,92 420.5,87 C424,85 427,82.8 430.5,81.8 C438,81.4 446,84 452.4,87.8"/>
  <path d="M369,148.6 C370,142.6 371.4,137 373.7,131.8 C377,124.6 382,118.4 388.7,113.1 C395.6,107.6 403,102.8 411.2,99 C418.4,95.8 426,93.4 433.6,91.6 L450.3,89"/>
  <path d="M375.6,157.1 L385,146.8 C388.6,141 391.4,135.4 394.3,129.9 C398.6,123.6 404.4,118 411.2,113.1 C417,109 423.4,105.2 429.9,101.8 C436,98.8 442,96.4 448.6,95.4 L458,94.6"/>
  <path d="M362.5,156.1 L367.4,161.9 L375.6,157.1"/>
 </g>
 <path stroke="#111" stroke-width="1.1" stroke-dasharray="8 1.2" d="M397.6,128.6 C400,124 405,118.6 411.2,113.6 C417,109.4 423.4,105.6 429.9,102.2 C436,99.2 442,96.8 448.6,95.6"/>
 <path stroke="#222" stroke-width="1.3" stroke-dasharray="2.4 1.6" d="M375,136 C378,128 383,121 389.7,115.4 C396,110 403,105.6 411,102 C418,99 426,96.4 433.6,94.6"/>
 <path stroke-width="1" stroke-dasharray="3 1.4" d="M443,142.6 L470.6,124"/>
 <!-- heavy left edge -->
 <path stroke-width="1.3" stroke="#111" stroke-dasharray="9 1.2" d="M480.4,41.3 L452.8,89"/>
 <!-- second top-face line: heavier dashes -->
 <path stroke-width="1.2" stroke="#111" stroke-dasharray="5 1.6 1.2 1.6" d="M480.3,41.4 L512.8,53.4 L535.1,56.3 L562.5,61.1 Q570,61.4 585.6,56.9 L635.3,40"/>
 <path stroke-width="1.1" stroke-dasharray="5 1.6 1.2 1.6" d="M545,49.4 L562.6,52.6 Q570,51.6 577,47.8"/>
 <!-- hub circles -->
 <g stroke-dasharray="6 1.2 1.4 1.2">
  <path d="M398.4,150 C398,158 402,166 410,170 C418,173.4 428,171.6 434,165.4 C437.6,161.6 439.6,156.6 439.4,151.4"/>
  <path d="M403,153 C403.4,161 409,167.4 417,168.4 C426,169.6 434,163.4 435.6,154.6"/>
  <circle cx="424.2" cy="152.8" r="11.6"/>
  <circle cx="424.6" cy="152.8" r="7.4"/>
 </g>
 <path stroke-width="1.3" stroke-dasharray="1 1.4" d="M414,136.6 C420,133.6 428,133.8 434,138 C438,141 440.4,145.6 440.6,151"/>
 <path d="M421.2,152.4 L425.4,148.4 L426,152 L429.6,151.4 L427.4,156.4 L423,157.4 Z" fill="#555" stroke="#111" stroke-width=".7"/>
 <path d="M423,155.4 L427,153.6" stroke="#000" stroke-width="1.2"/>
 <!-- ring on lower case -->
 <circle cx="526.4" cy="105.4" r="5.6" stroke-width=".9"/>
 <circle cx="526.4" cy="105.4" r="3.2" stroke-width="1.4" stroke-dasharray="2.5 1.2"/>
 <!-- chain runs (link dashes) -->
 <g stroke-width="1.5" stroke-dasharray="2.2 1.6" stroke="#2c2c2c">
  <path d="M401.8,149.6 C404,145 407.4,141 411.2,137.4 C414,134.6 417,132 420.5,129.9 L439.2,116.8 L467.3,94.4 L500.5,57.6"/>
  <path d="M470,97 L490,74" stroke-width="1"/>
  <path d="M539.9,112.6 L623.4,50.9"/>
  <path d="M470,90.3 L478,80"/>
 </g>
 <path stroke-dasharray="4 1.4" d="M441.5,134.4 L472.2,113 L471,110.6 L440.4,131.6 Z"/>
 <path stroke-width="1.2" stroke-dasharray="2 1.4" d="M442,133 L471,112"/>
 <!-- small slots on upper housing -->
 <path d="M480.4,54.6 L484.6,48.8 L486,50 L481.8,55.8 Z" stroke-width=".9"/>
 <path d="M464,79 L468,70.2 L469.6,71 L465.6,80 Z" stroke-width=".9"/>
 <circle cx="509.4" cy="75.7" r="2.6" stroke-dasharray="2 1"/>
 <circle cx="512" cy="83" r=".8"/>
 <!-- fasteners on band -->
 <g fill="#999" stroke="#111" stroke-width=".7">
  <path d="M377.6,134.6 L379.4,132.6 L381.4,133.6 L381,136.2 L378.6,136.8 Z"/>
  <path d="M386.8,122 L388.8,119.6 L390.8,120.6 L390.4,123.6 L388,124.4 Z"/>
  <path d="M397.2,112.2 L399,110.2 L401,111.2 L400.6,113.8 L398.2,114.4 Z"/>
  <path d="M386,144 L388.6,141.2 L391.4,142.6 L391,146.6 L387.6,147.8 Z"/>
 </g>
 <path stroke-width=".8" d="M369.5,159.2 L381.1,149.6 L381.1,157.1 L374,157.6"/>
 <!-- vertical dashed lines -->
 <path stroke-dasharray="5 1.4 1.4 1.4" d="M390.2,128 L390.2,178"/>
 <path stroke-width="1" stroke="#111" stroke-dasharray="3.4 1.4" d="M399.6,128 L399.6,176"/>
 <path stroke-dasharray="3 1.4" d="M353.3,118.8 L353.3,146"/>
 <path stroke-width=".6" d="M353.3,118.8 L366.6,128.1"/>
</g>

<!-- 90_brackets.svg -->
<g id="brackets">
 <!-- bolt 13 -->
 <path class="kf" d="M338.4,33 L341,30.2 L344.6,31 L345.8,34.6 L343.4,37.4 L339.8,36.6 Z"/>
 <path class="k" d="M341,30.2 L341.8,33.6 L345.8,34.6 M341.8,33.6 L339.8,36.6"/>
 <path d="M345.8,35.4 L352.4,39.6 L351.2,41.6 L344.8,37.4 Z" fill="#333" stroke="#111" stroke-width=".6"/>
 <path class="l" d="M325.4,44.8 L339.2,34.6"/>
 <!-- bracket 14 top -->
 <path class="k" d="M363.3,36.9 L368.3,34.4 L384,45.7 L388.4,43.8 L397.8,50.8 L397.8,56.4 L393.4,60.2 L391.6,58.9 L391.6,54.5 L384.6,50.8 L384,45.7 M363.3,36.9 L363.3,43.8 L367.7,42 L368.3,34.4 M363.3,36.9 L367.7,42 M367.7,42 L384.6,52.6 M384.6,50.8 L384.6,53.6"/>
 <path class="t" stroke-dasharray="2 1.3" d="M363.3,43.8 L381.5,55.2 L384.6,53.6"/>
 <ellipse cx="394.4" cy="55.4" rx="1.5" ry="3" fill="#fff" stroke="#000" stroke-width="1.1"/>
 <path class="k" d="M391.6,54.5 L397.8,50.8"/>
 <path class="l" d="M389.2,77.8 L391.8,60.2"/>
 <path class="c" d="M352.6,41.3 L374,57 M397.8,60.2 L425.7,81.6"/>
 <!-- bracket 14 lower -->
 <path class="kf" d="M484.5,145.7 L489.5,141.9 L495.2,145.7 L495.2,151.4 L490.2,153.9 L484.5,150.7 Z"/>
 <path d="M485.8,146 L488.2,144.4 L488.2,151 L485.8,149.8 Z M490.8,144.6 L492.6,145.8 L492.6,151.8 L490.8,152.4 Z" fill="#333" stroke="#000" stroke-width=".6"/>
 <path class="k" d="M495.2,145.7 L500.2,148.8 L500.2,152.6 M495.8,152 L499.6,150.1 L511.5,160.8 L511.5,167.1 L507.1,169 L507.1,163.3 L495.2,158.3 L495.2,152.6 L507.1,163.3 L511.5,160.8"/>
 <path class="k" d="M509,164.4 L509,167.6" stroke-width="1.2"/>
 <path class="l" d="M515.4,186.4 L509.6,169.8"/>
 <!-- nut 38 right / washer 37 -->
 <path d="M466,162 L468.2,159.6 L471.2,160.4 L472,163.6 L469.8,166.2 L466.8,165.4 Z" fill="#808080" stroke="#000" stroke-width=".8"/>
 <path class="l" d="M467.4,184.6 L469.4,166.6"/>
 <ellipse cx="487.6" cy="169" rx="3" ry="3.7" fill="#fff" stroke="#000" stroke-width="1"/>
 <ellipse cx="487.8" cy="169" rx="1.3" ry="1.8" fill="#555" stroke="#000" stroke-width=".6"/>
 <path class="l" d="M494.4,189.4 L488.6,172.4"/>
 <path class="c" d="M484.5,153.2 L471.3,161.4 M490.2,155.8 L478.2,162.7 M497.7,146.3 L505.9,141.9"/>
 <path class="c" d="M463.8,133.8 L484.5,146.3"/>
 <!-- nut 38 left -->
 <ellipse class="kf" cx="354" cy="150.8" rx="3.7" ry="1.9"/>
 <path d="M352.2,150.4 L352.8,147.6 L355.4,147.6 L356,150.4 Z" fill="#333" stroke="#000" stroke-width=".7"/>
 <path class="l" d="M349.2,164.6 L353.4,153"/>
 <!-- nut 38 mid + small bolt -->
 <ellipse class="kf" cx="390.4" cy="182.2" rx="3.7" ry="1.9"/>
 <path d="M388.6,181.8 L389.2,178.8 L391.8,178.8 L392.4,181.8 Z" fill="#333" stroke="#000" stroke-width=".7"/>
 <path class="k" d="M398.6,189.4 L398.6,194.2 M402.6,189.4 L402.6,194.2 M398.6,191.8 L402.6,191.8" stroke-width="1"/>
 <path class="l" d="M428.2,190.2 L392.6,181.8 M428.2,190.6 L403,191.4"/>
</g>

<g id="labels">
<rect class="bx" x="53.75" y="86.75" width="13.50" height="13.50"/><text x="60.50" y="97.62" font-size="11.5" text-anchor="middle">35</text>
<rect class="bx" x="181.75" y="21.75" width="6.50" height="12.50"/><text x="185.00" y="32.12" font-size="11.5" text-anchor="middle">3</text>
<rect class="bx" x="198.75" y="18.75" width="6.50" height="12.50"/><text x="202.00" y="29.12" font-size="11.5" text-anchor="middle">4</text>
<rect class="bx" x="206.75" y="32.75" width="6.50" height="12.50"/><text x="210.00" y="43.12" font-size="11.5" text-anchor="middle">6</text>
<rect class="bx" x="255.75" y="48.75" width="5.50" height="12.50"/><text x="258.50" y="59.12" font-size="11.5" text-anchor="middle">7</text>
<rect class="bx" x="260.75" y="66.75" width="6.50" height="12.50"/><text x="264.00" y="77.12" font-size="11.5" text-anchor="middle">8</text>
<rect class="bx" x="180.75" y="72.75" width="13.50" height="13.50"/><text x="187.50" y="83.62" font-size="11.5" text-anchor="middle">39</text>
<rect class="bx" x="310.75" y="40.75" width="13.50" height="12.50"/><text x="317.50" y="51.12" font-size="11.5" text-anchor="middle">13</text>
<rect class="bx" x="61.75" y="156.75" width="7.50" height="13.50"/><text x="65.50" y="167.62" font-size="11.5" text-anchor="middle">2</text>
<rect class="bx" x="98.75" y="182.75" width="13.50" height="12.50"/><text x="105.50" y="193.12" font-size="11.5" text-anchor="middle">29</text>
<rect class="bx" x="218.75" y="109.75" width="12.50" height="12.50"/><text x="225.00" y="120.12" font-size="11.5" text-anchor="middle">31</text>
<rect class="bx" x="168.75" y="148.75" width="12.50" height="12.50"/><text x="175.00" y="159.12" font-size="11.5" text-anchor="middle">30</text>
<rect class="bx" x="187.75" y="157.75" width="12.50" height="13.50"/><text x="194.00" y="168.62" font-size="11.5" text-anchor="middle">40</text>
<rect class="bx" x="177.75" y="167.75" width="6.50" height="12.50"/><text x="181.00" y="178.12" font-size="11.5" text-anchor="middle">1</text>
<rect class="bx" x="327.75" y="155.75" width="7.50" height="12.50"/><text x="331.50" y="166.12" font-size="11.5" text-anchor="middle">9</text>
<rect class="bx" x="489.75" y="189.75" width="12.50" height="13.50"/><text x="496.00" y="200.62" font-size="11.5" text-anchor="middle">37</text>
<rect class="bx" x="510.75" y="186.75" width="13.50" height="13.50"/><text x="517.50" y="197.62" font-size="11.5" text-anchor="middle">14</text>
<rect class="bx" x="119.75" y="230.75" width="13.50" height="12.50"/><text x="126.50" y="241.12" font-size="11.5" text-anchor="middle">33</text>
<rect class="bx" x="100.75" y="243.75" width="12.50" height="12.50"/><text x="107.00" y="254.12" font-size="11.5" text-anchor="middle">25</text>
<rect class="bx" x="59.75" y="254.75" width="13.50" height="12.50"/><text x="66.50" y="265.12" font-size="11.5" text-anchor="middle">24</text>
<rect class="bx" x="58.75" y="270.75" width="13.50" height="11.50"/><text x="65.50" y="280.62" font-size="11.5" text-anchor="middle">23</text>
<rect class="bx" x="104.75" y="269.75" width="12.50" height="12.50"/><text x="111.00" y="280.12" font-size="11.5" text-anchor="middle">26</text>
<rect class="bx" x="23.75" y="290.75" width="12.50" height="12.50"/><text x="30.00" y="301.12" font-size="11.5" text-anchor="middle">27</text>
<rect class="bx" x="150.75" y="255.75" width="9.50" height="8.50"/><text x="155.50" y="263.58" font-size="10" text-anchor="middle">32</text>
<rect class="bx" x="149.75" y="272.75" width="12.50" height="9.50"/><text x="157.50" y="281.62" font-size="11.5" text-anchor="middle">28</text>
<rect class="bx" x="209.75" y="258.75" width="9.50" height="7.50"/><text x="214.50" y="266.08" font-size="10" text-anchor="middle">5</text>
<rect class="bx" x="267.75" y="286.75" width="13.50" height="12.50"/><text x="274.50" y="297.12" font-size="11.5" text-anchor="middle">38</text>
<rect class="bx" x="445.75" y="246.75" width="12.50" height="13.50"/><text x="452.00" y="257.62" font-size="11.5" text-anchor="middle">15</text>
<rect class="bx" x="483.75" y="257.75" width="12.50" height="12.50"/><text x="490.00" y="268.12" font-size="11.5" text-anchor="middle">22</text>
<rect class="bx" x="494.75" y="281.75" width="12.50" height="12.50"/><text x="501.00" y="292.12" font-size="11.5" text-anchor="middle">21</text>
<rect class="bx" x="523.75" y="280.75" width="12.50" height="12.50"/><text x="530.00" y="291.12" font-size="11.5" text-anchor="middle">20</text>
<rect class="bo" x="545.75" y="301.75" width="13.50" height="12.50"/><text x="552.50" y="312.12" font-size="11.5" text-anchor="middle">19</text>
<rect class="bx" x="99.75" y="346.75" width="12.50" height="12.50"/><text x="106.00" y="357.12" font-size="11.5" text-anchor="middle">16</text>
<rect class="bx" x="191.75" y="391.75" width="11.50" height="12.50"/><text x="197.50" y="401.58" font-size="10" text-anchor="middle">18</text>
<text x="137.00" y="54.00" font-size="11.5" text-anchor="middle">35</text>
<text x="236.60" y="37.80" font-size="11.5" text-anchor="middle">5</text>
<text x="391.40" y="87.60" font-size="11.5" text-anchor="middle">14</text>
<text x="258.00" y="135.30" font-size="11.5" text-anchor="middle">1</text>
<text x="308.20" y="149.20" font-size="11.5" text-anchor="middle">5</text>
<text x="308.80" y="164.90" font-size="11.5" text-anchor="middle">16</text>
<text x="201.80" y="186.90" font-size="11.5" text-anchor="middle">18</text>
<text x="348.80" y="174.80" font-size="11.5" text-anchor="middle">38</text>
<text x="363.50" y="194.50" font-size="11.5" text-anchor="middle">5</text>
<text x="435.00" y="195.20" font-size="11.5" text-anchor="middle">38</text>
<text x="466.80" y="196.20" font-size="11.5" text-anchor="middle">38</text>
<text x="162.80" y="228.30" font-size="11.5" text-anchor="middle">23</text>
<text x="180.00" y="285.60" font-size="11.5" text-anchor="middle">24</text>
<text x="213.80" y="310.60" font-size="11.5" text-anchor="middle">23</text>
<text x="161.60" y="315.30" font-size="11.5" text-anchor="middle">24</text>
<text x="301.00" y="251.80" font-size="11.5" text-anchor="middle">40</text>
<text x="328.60" y="264.30" font-size="11.5" text-anchor="middle">1</text>
<text x="401.50" y="224.90" font-size="11.5" text-anchor="middle">39</text>
<text x="422.00" y="234.00" font-size="11.5" text-anchor="middle">29</text>
<text x="430.50" y="256.20" font-size="11.5" text-anchor="middle">30</text>
<text x="370.60" y="293.20" font-size="11.5" text-anchor="middle">31</text>
<text x="447.10" y="315.20" font-size="11.5" text-anchor="middle">35</text>
<text x="393.20" y="371.10" font-size="11.5" text-anchor="middle">35</text>
<text x="113.2" y="402" font-size="10.4">tine_shield-rear_</text>
</g>
</svg>
</body></html>
